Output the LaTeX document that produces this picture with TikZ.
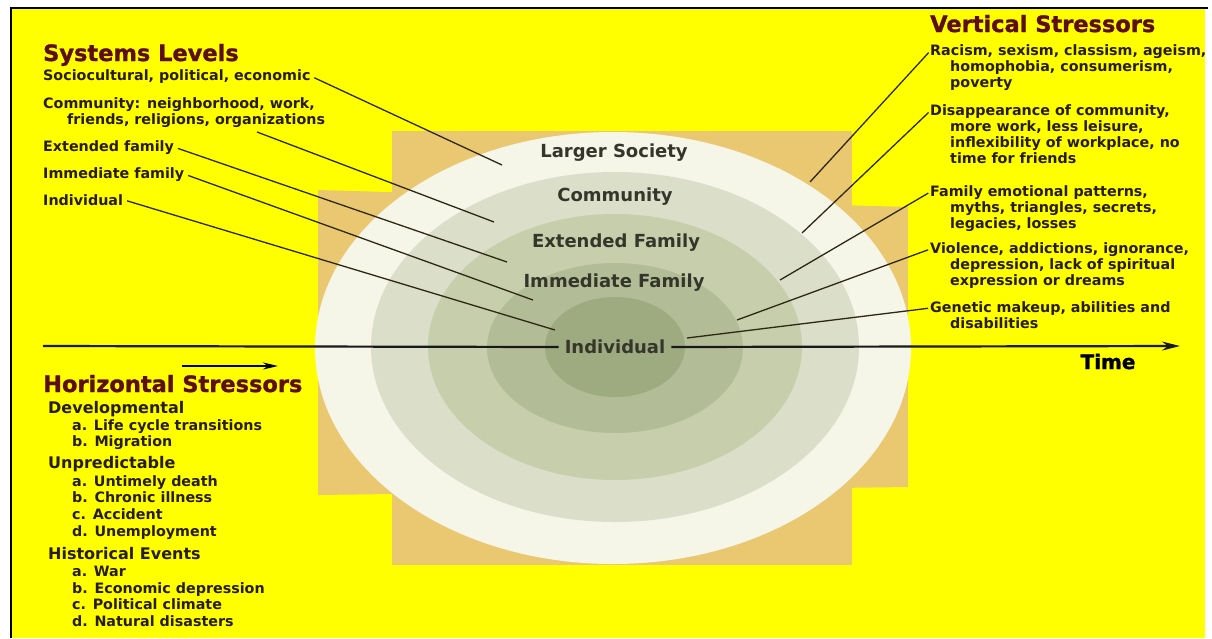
\documentclass[tikz,border=0pt]{standalone}
\usepackage{fontspec}
\setmainfont{DejaVu Sans}
\newfontfamily\heavyfont{DejaVu Sans}[BoldFeatures={FakeBold=1.3}]
\usetikzlibrary{arrows.meta, positioning}

\definecolor{sheet}{RGB}{255,255,0}
\definecolor{sand}{RGB}{234,200,114}
\definecolor{ringA}{RGB}{245,245,232}
\definecolor{ringB}{RGB}{219,222,200}
\definecolor{ringC}{RGB}{199,206,172}
\definecolor{ringD}{RGB}{178,188,150}
\definecolor{ringE}{RGB}{158,170,128}
\definecolor{headred}{RGB}{92,14,18}
\definecolor{ink}{RGB}{40,28,10}
\definecolor{ringink}{RGB}{52,54,42}
\definecolor{lead}{RGB}{45,40,20}

\tikzset{
  heading/.style={anchor=base west, inner sep=0pt, text=headred,
    font=\fontsize{22.5}{26}\selectfont\heavyfont\bfseries},
  group/.style={anchor=base west, inner sep=0pt, text=ink,
    font=\fontsize{16}{19}\selectfont\bfseries},
  item/.style={anchor=base west, inner sep=0pt, text=ink,
    font=\fontsize{14.3}{16}\selectfont\bfseries},
  ringlabel/.style={inner sep=0pt, text=ringink,
    font=\fontsize{18}{21}\selectfont\bfseries},
  leader/.style={draw=lead, line width=1.3pt, shorten <=4pt},
  axis/.style={draw=black!90, line width=2.2pt}
}

\begin{document}
\begin{tikzpicture}[x=1pt, y=-1pt, >=Stealth]
    \useasboundingbox (0,0) rectangle (1212,638);

    % Sheet and frame
    \fill[white] (0,0) rectangle (1212,638);
    \fill[sheet] (11,8) rectangle (1205,638);
    \draw[black, line width=2.5pt] (11,638) -- (11,8) -- (1208,8);

    % Sand cross behind the rings
    \fill[sand] (392,131) rectangle (852,565);
    \fill[sand] (318,190) -- (908,207) -- (908,487) -- (318,495) -- cycle;

    % Nested levels
    \fill[ringA] (613,348) ellipse [x radius=298pt, y radius=216pt];
    \fill[ringB] (615,347) ellipse [x radius=244pt, y radius=175pt];
    \fill[ringC] (615,347) ellipse [x radius=187pt, y radius=133pt];
    \fill[ringD] (615,348) ellipse [x radius=128pt, y radius=85pt];
    \fill[ringE] (615,347) ellipse [x radius=70pt, y radius=50pt];

    \node[ringlabel] (ls) at (614,153) {Larger Society};
    \node[ringlabel] (cm) at (615,197) {Community};
    \node[ringlabel] (ef) at (616,243) {Extended Family};
    \node[ringlabel] (imf) at (614,283) {Immediate Family};
    \node[ringlabel, inner xsep=6pt] (ind) at (615,347) {Individual};

    % Time axis through the centre
    \coordinate (tstart) at (43,346);
    \coordinate (tend) at (1180,346);
    \draw[axis] (tstart) -- (ind.west);
    \draw[axis, -{Stealth[length=18pt, width=9pt]}] (ind.east) -- (tend);
    \node[anchor=base, inner sep=0pt, font=\fontsize{20}{24}\selectfont\heavyfont\bfseries] (time) at (1108,369) {Time};

    % Systems levels
    \node[heading] (sys) at (43,61) {Systems Levels};
    \node[item] (socio) at (43,80) {Sociocultural, political, economic};
    \node[item] (comm) at (43,108) {Community: neighborhood, work,};
    \node[item] (comm-1) at (67,124) {friends, religions, organizations};
    \node[item] (extfam) at (43,151) {Extended family};
    \node[item] (immfam) at (43,178) {Immediate family};
    \node[item] (indiv) at (43,205) {Individual};
    \coordinate (commtail) at (257,132);

    \coordinate (l1) at (502,165);
    \coordinate (l2) at (494,222);
    \coordinate (l3) at (507,262);
    \coordinate (l4) at (533,300);
    \coordinate (l5) at (555,330);
    \draw[leader] (socio.east) -- (l1);
    \draw[leader, shorten <=0pt] (commtail) -- (l2);
    \draw[leader] (extfam.east) -- (l3);
    \draw[leader] (immfam.east) -- (l4);
    \draw[leader] (indiv.east) -- (l5);

    % Vertical stressors
    \node[heading] (vert) at (930,32) {Vertical Stressors};
    \node[item] (vs1) at (930,55) {Racism, sexism, classism, ageism,};
    \foreach \txt [count=\i] in {{homophobia, consumerism,}, poverty}
        \node[item] (vs1-\i) at (950,{55+16*\i}) {\txt};
    \node[item] (vs2) at (930,115) {Disappearance of community,};
    \foreach \txt [count=\i] in {{more work, less leisure,}, {inflexibility of workplace, no}, time for friends}
        \node[item] (vs2-\i) at (950,{115+16*\i}) {\txt};
    \node[item] (vs3) at (930,196) {Family emotional patterns,};
    \foreach \txt [count=\i] in {{myths, triangles, secrets,}, {legacies, losses}}
        \node[item] (vs3-\i) at (950,{196+16*\i}) {\txt};
    \node[item] (vs4) at (930,253) {Violence, addictions, ignorance,};
    \foreach \txt [count=\i] in {{depression, lack of spiritual}, expression or dreams}
        \node[item] (vs4-\i) at (950,{253+16*\i}) {\txt};
    \node[item] (vs5) at (930,312) {Genetic makeup, abilities and};
    \node[item] (vs5-1) at (950,328) {disabilities};

    \coordinate (r1) at (810,182);
    \coordinate (r2) at (802,233);
    \coordinate (r3) at (780,280);
    \coordinate (r4) at (737,320);
    \coordinate (r5) at (687,338);
    \draw[leader, shorten <=2pt] (vs1.west) -- (r1);
    \draw[leader, shorten <=2pt] (vs2.west) -- (r2);
    \draw[leader, shorten <=2pt] (vs3.west) -- (r3);
    \draw[leader, shorten <=2pt] (vs4.west) -- (r4);
    \draw[leader, shorten <=2pt] (vs5.west) -- (r5);

    % Horizontal stressors
    \coordinate (h0) at (182,366);
    \coordinate (h1) at (278,366);
    \draw[black, line width=2pt, -{Stealth[length=15pt, width=7pt]}] (h0) -- (h1);
    \node[heading] (horiz) at (43,392) {Horizontal Stressors};

    \node[group] (dev) at (48,413) {Developmental};
    \foreach \txt [count=\i] in {a. Life cycle transitions, b. Migration}
        \node[item] (dev-\i) at (72,{413.5+16.5*\i}) {\txt};
    \node[group] (unp) at (48,468) {Unpredictable};
    \foreach \txt [count=\i] in {a. Untimely death, b. Chronic illness, c. Accident, d. Unemployment}
        \node[item] (unp-\i) at (72,{469.5+16.7*\i}) {\txt};
    \node[group] (hist) at (48,559) {Historical Events};
    \foreach \txt [count=\i] in {a. War, b. Economic depression, c. Political climate, d. Natural disasters}
        \node[item] (hist-\i) at (72,{559.5+16.8*\i}) {\txt};
\end{tikzpicture}
\end{document}
